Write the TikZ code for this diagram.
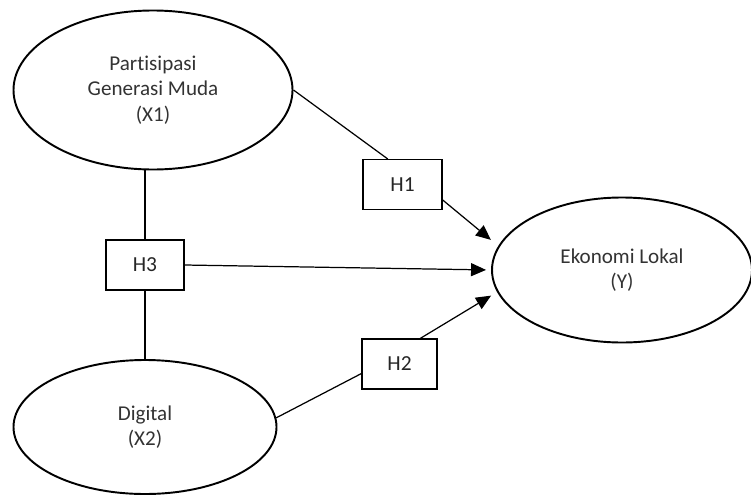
\documentclass[tikz,border=0pt]{standalone}
\usepackage{fontspec}
\setmainfont{Carlito}[Ligatures=NoCommon]
\usetikzlibrary{shapes,arrows.meta}

\begin{document}
\begin{tikzpicture}[var/.style={shape=ellipse,draw=black,align=center,line width=1.1pt,inner sep=0pt,text=black!80,font=\fontsize{12}{14.5}\selectfont},
hyp/.style={shape=rectangle,draw=black,align=center,line width=0.6pt,minimum height=1cm,text=black!85,font=\fontsize{12.2}{14.5}\selectfont},
link/.style={draw=black,line width=0.7pt},
effect/.style={-{Triangle[length=0.3cm,width=0.26cm]},draw=black,line width=0.7pt}]
\useasboundingbox (0,0) rectangle (15.02,9.92);
\node[var,minimum width=5.58cm,minimum height=3.18cm] (0) at (3.06,8.12) {Partisipasi\\Generasi Muda\\(X1)};
\node[var,minimum width=5.26cm,minimum height=2.68cm] (1) at (2.9,1.38) {Digital\\(X2)};
\node[var,minimum width=5.2cm,minimum height=2.9cm] (2) at (12.44,4.52) {Ekonomi Lokal\\(Y)};
\node[hyp,minimum width=1.58cm] (3) at (8.05,6.23) {H1};
\node[hyp,minimum width=1.5cm] (4) at (7.99,2.64) {H2};
\node[hyp,minimum width=1.56cm] (5) at (2.9,4.62) {H3};

\path (0.east) edge[link] (3.120);
\path (1.4) edge[link] (4.194);
\path (5.north) edge[link] (5.north |- 0.south);
\path (5.south) edge[link] (1.north);
\path (3.339) edge[effect,shorten >=0.19cm] (2.169);
\path (4.51) edge[effect,shorten >=0.14cm] (2.190);
\path (5.east) edge[effect,shorten >=0.1cm] (2.west);
\end{tikzpicture}
\end{document}
